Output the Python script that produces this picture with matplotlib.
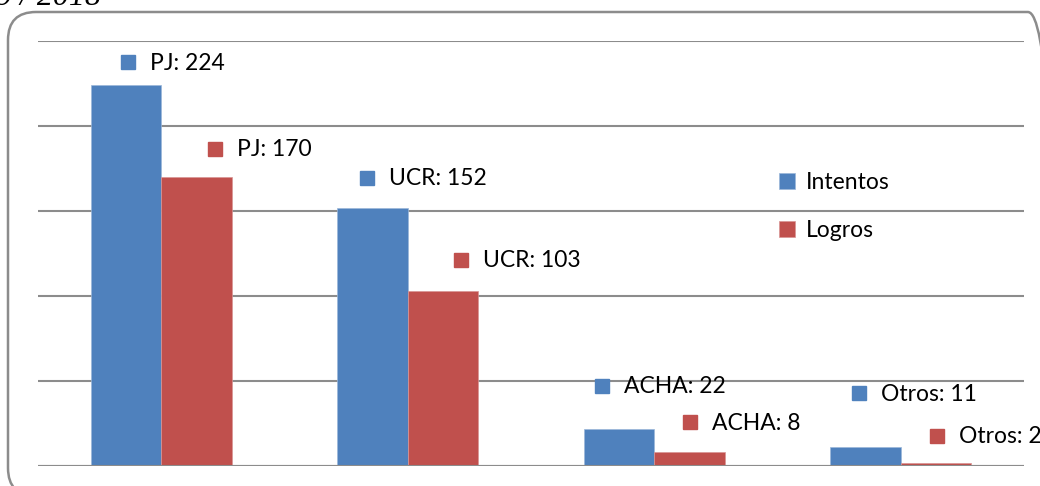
import matplotlib
matplotlib.use("Agg")
import matplotlib.pyplot as plt
from matplotlib.patches import FancyBboxPatch
from matplotlib.transforms import offset_copy
import numpy as np

categories = ["PJ", "UCR", "ACHA", "Otros"]
intentos = [224, 152, 22, 11]
logros = [170, 103, 8, 2]
series_names = ["Intentos", "Logros"]
colors = ["#4F81BD", "#C0504D"]

# label placement (pixels from bar top-centre to the key square)
lab_dx = [[-5, 12], [-13, 11], [-24, -6], [-14, -6]]
lab_dy = [[23, 28], [30, 31], [43, 30], [54, 27]]

plt.rcParams['font.family'] = ['Lato', 'DejaVu Sans']

fig = plt.figure(figsize=(10.4, 4.86), dpi=100)
W, H = 1040, 486

# rounded frame around chart (runs slightly off the right and bottom edges)
frame = FancyBboxPatch((8 / W, -10 / H), (1056 - 8) / W, (496 - 12) / H,
                       boxstyle="round,pad=0,rounding_size=0.027",
                       transform=fig.transFigure, fill=False, edgecolor="#8c8c8c", lw=1.8,
                       mutation_aspect=W / H)
fig.patches.append(frame)

# cut-off header text
fig.text(-4 / W, 1 - 5 / H, "9 / 2018", fontsize=23, family="Liberation Serif", style="italic",
         va="baseline", ha="left")

ax = fig.add_axes([38 / W, 1 - 466 / H, 986 / W, 425 / H])
x = np.arange(len(categories))
bw = 0.285
b1 = ax.bar(x - bw / 2, intentos, bw, color=colors[0], edgecolor="#9bb7d9", lw=0.5, label=series_names[0], zorder=3)
b2 = ax.bar(x + bw / 2, logros, bw, color=colors[1], edgecolor="#d99594", lw=0.5, label=series_names[1], zorder=3)

ax.set_xlim(-0.5, len(categories) - 0.5)
ax.set_ylim(0, 250)
ax.set_yticks(np.arange(0, 251, 50))
ax.set_xticks([])
ax.tick_params(left=False, labelleft=False)
ax.grid(axis="y", color="#8c8c8c", lw=1.5, zorder=0)
for s in ax.spines.values():
    s.set_visible(False)
ax.axhline(0, color="#8c8c8c", lw=1.5, zorder=4)

for j, (vals, bars) in enumerate([(intentos, b1), (logros, b2)]):
    for i, (v, b) in enumerate(zip(vals, bars)):
        cx = b.get_x() + b.get_width() / 2
        tr = offset_copy(ax.transData, fig=fig, x=lab_dx[i][j] + 7, y=lab_dy[i][j], units="dots")
        ax.plot([cx], [v], marker="s", ms=10, color=colors[j], transform=tr, clip_on=False, zorder=5)
        tr2 = offset_copy(ax.transData, fig=fig, x=lab_dx[i][j] + 29, y=lab_dy[i][j] - 1, units="dots")
        ax.text(cx, v, f"{categories[i]}: {v}", transform=tr2, fontsize=16.5, va="center", ha="left",
                clip_on=False, zorder=5)

leg = ax.legend(loc="upper left", bbox_to_anchor=(730 / 986, 1 - 120 / 425), frameon=False,
                fontsize=16.5, handlelength=0.7, handleheight=0.7, handletextpad=0.45,
                labelspacing=1.15, borderpad=0)

fig.savefig("out.png", dpi=100)
